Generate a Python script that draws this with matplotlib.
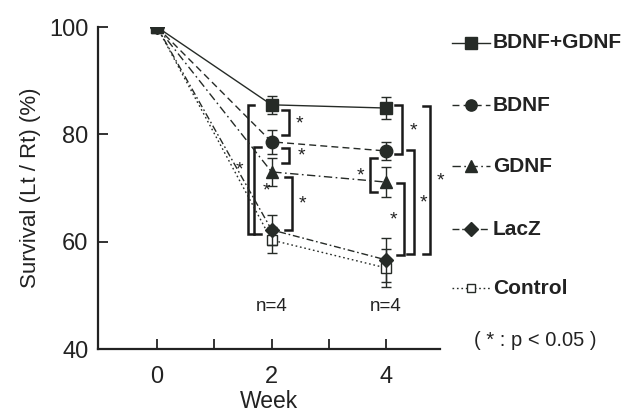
import matplotlib
matplotlib.use("Agg")
import matplotlib.pyplot as plt
from matplotlib.lines import Line2D

plt.rcParams['font.family'] = ['Liberation Sans', 'DejaVu Sans']

# ---- data ----
weeks = [0, 2, 4]
groups = ["BDNF+GDNF", "BDNF", "GDNF", "LacZ", "Control"]
bdnf_gdnf = [100, 85.5, 84.9]
bdnf = [100, 78.6, 76.9]
gdnf = [100, 73.0, 71.1]
lacz = [100, 62.2, 56.6]
control = [100, 60.3, 55.1]
err_bdnf_gdnf = [0, 1.7, 2.0]
err_bdnf = [0, 2.2, 1.7]
err_gdnf = [0, 2.6, 2.8]
err_lacz = [0, 2.8, 4.1]
err_control = [0, 2.4, 3.5]
n_labels = ["n=4", "n=4"]
n_weeks = [2, 4]

values = [bdnf_gdnf, bdnf, gdnf, lacz, control]
errors = [err_bdnf_gdnf, err_bdnf, err_gdnf, err_lacz, err_control]

dark = "#262b27"
styles = [
    dict(ls="-", marker="s", mfc=dark, ms=9),
    dict(ls=(0, (5, 3)), marker="o", mfc=dark, ms=9),
    dict(ls=(0, (6, 2.5, 1.2, 2.5)), marker="^", mfc=dark, ms=9),
    dict(ls=(0, (5, 2, 1.2, 2)), marker="D", mfc=dark, ms=7.5),
    dict(ls=(0, (1.2, 2)), marker="s", mfc="white", ms=6.5),
]

# significance brackets: (week, group_a, group_b, x offset [wk], side, shrink_top, shrink_bot, star dx)
brackets = [
    (2, 0, 1, 0.31, "r", 1.0, 1.3, 0.18),
    (2, 1, 2, 0.31, "r", 1.1, 1.7, 0.21),
    (2, 2, 3, 0.35, "r", 0.9, 0.0, 0.19),
    (2, 0, 3, -0.42, "l", 0.0, -0.7, -0.14),
    (2, 1, 3, -0.30, "l", 0.9, -0.7, 0.21),
    (4, 0, 1, 0.28, "r", -0.6, -0.6, 0.19),
    (4, 1, 2, -0.28, "l", 1.3, -1.9, -0.16),
    (4, 2, 3, 0.31, "r", 0.1, 0.9, -0.19),
    (4, 1, 3, 0.49, "r", -0.2, 1.1, 0.16),
    (4, 0, 3, 0.77, "r", -0.4, 1.1, 0.17),
]

W, H = 626, 415
fig = plt.figure(figsize=(W / 100, H / 100), dpi=100)
ax = fig.add_axes([98 / W, 1 - 349 / H, (440 - 98) / W, (349 - 27) / H])

for i in reversed(range(len(groups))):
    st = styles[i]
    ax.errorbar(weeks, values[i], yerr=errors[i], color=dark, lw=1.0,
                ls=st["ls"], marker=st["marker"], mfc=st["mfc"], mec=dark,
                ms=st["ms"], mew=1.0, capsize=3.5, elinewidth=1.0,
                capthick=1.2, zorder=3 + (5 - i))

# brackets
tick = 0.12
for wk, a, b, dx, side, s_top, s_bot, sdx in brackets:
    k = weeks.index(wk)
    hi = max(values[a][k], values[b][k]) - s_top
    lo = min(values[a][k], values[b][k]) + s_bot
    x = wk + dx
    t = -tick if side == "r" else tick
    ax.plot([x + t, x, x, x + t], [hi, hi, lo, lo], color="#1a1a1a",
            lw=1.8, solid_joinstyle="miter", zorder=2)
    ax.text(x + sdx, (hi + lo) / 2 - 0.2, "*", ha="center", va="center",
            fontsize=14, color="#222222")

for wk, lab in zip(n_weeks, n_labels):
    ax.text(wk, 48.0, lab, ha="center", va="center", fontsize=13.5,
            color="#222222")

ax.set_xlim(-1.03, 4.94)
ax.set_ylim(40, 100)
ax.set_xticks([0, 1, 2, 3, 4])
ax.set_xticklabels(["0", "", "2", "", "4"])
ax.set_yticks([40, 60, 80, 100])
ax.tick_params(direction="in", length=7, width=1.3, labelsize=17,
               colors="#222222")
ax.tick_params(axis="x", pad=12)
ax.tick_params(axis="y", pad=7)
for s in ["top", "right"]:
    ax.spines[s].set_visible(False)
for s in ["left", "bottom"]:
    ax.spines[s].set_linewidth(1.6)
    ax.spines[s].set_color("#222222")
ax.set_xlabel("Week", fontsize=16.5, color="#222222", labelpad=2)
ax.set_ylabel("Survival (Lt / Rt) (%)", fontsize=16, color="#222222",
              labelpad=6)

# manual legend on the right
leg_y = [43, 105, 166, 229, 288]
for i, yy in enumerate(leg_y):
    st = styles[i]
    fy = 1 - yy / H
    fig.add_artist(Line2D([452 / W, 490 / W], [fy, fy], color=dark, lw=1.0,
                          ls=st["ls"], transform=fig.transFigure))
    fig.add_artist(Line2D([471 / W], [fy], color=dark, marker=st["marker"],
                          mfc=st["mfc"], mec=dark, ms=st["ms"] * 0.9,
                          ls="none", transform=fig.transFigure))
    fig.text(493 / W, fy, groups[i], ha="left", va="center", fontsize=15,
             fontweight="bold", color="#222222")
fig.text(535 / W, 1 - 340 / H, "( * : p < 0.05 )", ha="center", va="center",
         fontsize=14.5, color="#222222")

fig.savefig("out.png", dpi=100)
